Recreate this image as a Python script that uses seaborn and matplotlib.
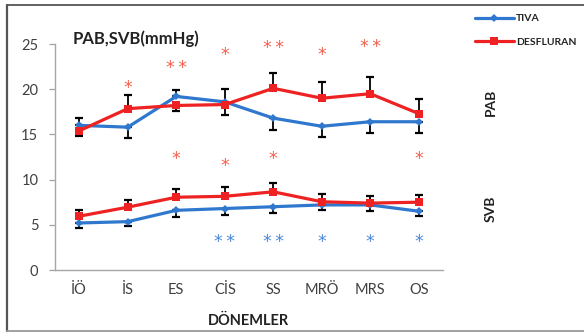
import numpy as np
import pandas as pd
import matplotlib
matplotlib.use("Agg")
import matplotlib.pyplot as plt
from matplotlib.lines import Line2D
import seaborn as sns

# === Data ===
periods = ["İÖ", "İS", "ES", "CİS", "SS", "MRÖ", "MRS", "OS"]

tiva_pab = [16.0, 15.8, 19.2, 18.6, 16.8, 15.9, 16.4, 16.4]
desf_pab = [15.4, 17.85, 18.2, 18.3, 20.1, 19.0, 19.5, 17.3]
tiva_svb = [5.2, 5.35, 6.6, 6.8, 7.0, 7.2, 7.2, 6.5]
desf_svb = [5.95, 6.95, 8.05, 8.15, 8.65, 7.55, 7.4, 7.5]

# error bar sizes, drawn on one side only (+1 up, -1 down)
tiva_pab_err = [0.8, 1.2, 0.7, 1.4, 1.35, 1.2, 1.3, 1.3]
tiva_pab_dir = [1, -1, 1, -1, -1, -1, -1, -1]
desf_pab_err = [0.6, 1.5, 0.6, 1.7, 1.7, 1.8, 1.9, 1.6]
desf_pab_dir = [-1, 1, -1, 1, 1, 1, 1, 1]
tiva_svb_err = [0.56, 0.53, 0.7, 0.68, 0.74, 0.53, 0.7, 0.55]
tiva_svb_dir = [-1] * 8
desf_svb_err = [0.74, 0.74, 0.86, 1.0, 0.93, 0.88, 0.75, 0.82]
desf_svb_dir = [1] * 8

# significance marks
star_period = ["İS", "ES", "CİS", "SS", "MRÖ", "MRS",
               "ES", "CİS", "SS", "OS",
               "CİS", "SS", "MRÖ", "MRS", "OS"]
star_count = [1, 2, 1, 2, 1, 2,
              1, 1, 1, 1,
              2, 2, 1, 1, 1]
star_y = [20.1, 22.3, 23.8, 24.6, 23.8, 24.7,
          12.3, 11.5, 12.3, 12.3,
          3.1, 3.1, 3.1, 3.1, 3.1]
star_group = ["DESFLURAN"] * 10 + ["TIVA"] * 5

groups = ["TIVA", "DESFLURAN"]
colors = {"TIVA": "#2F78CE", "DESFLURAN": "#EE2222"}
star_colors = {"TIVA": "#4A88D8", "DESFLURAN": "#F2604E"}

# long table for seaborn
rows = []
series = [
    ("TIVA", "PAB", tiva_pab, tiva_pab_err, tiva_pab_dir),
    ("DESFLURAN", "PAB", desf_pab, desf_pab_err, desf_pab_dir),
    ("TIVA", "SVB", tiva_svb, tiva_svb_err, tiva_svb_dir),
    ("DESFLURAN", "SVB", desf_svb, desf_svb_err, desf_svb_dir),
]
for grp, meas, vals, errs, dirs in series:
    for i, p in enumerate(periods):
        rows.append({"period": p, "pos": i, "group": grp, "measure": meas,
                     "value": vals[i], "err": errs[i], "dir": dirs[i]})
df = pd.DataFrame(rows)

# === Plot setup ===
sns.set_theme(style="white")
plt.rcParams["font.family"] = ["Lato", "DejaVu Sans"]
text_col = "#404040"

fig = plt.figure(figsize=(5.84, 3.33), dpi=100)
ax = fig.add_axes([55 / 584, 1 - 270 / 333, 388 / 584, 226 / 333])

# error bars first so lines sit on top
for (grp, meas), sub in df.groupby(["group", "measure"]):
    up = np.where(sub["dir"] > 0, sub["err"], 0)
    lo = np.where(sub["dir"] < 0, sub["err"], 0)
    ax.errorbar(sub["pos"], sub["value"], yerr=[lo, up], fmt="none",
                ecolor="black", elinewidth=1.3, capsize=3, capthick=1.6,
                zorder=2)

sns.lineplot(data=df, x="pos", y="value", hue="group", style="group",
             units="measure", estimator=None, palette=colors,
             markers={"TIVA": "D", "DESFLURAN": "s"}, dashes=False,
             linewidth=2.3, markersize=6, markeredgewidth=0,
             legend=False, ax=ax, zorder=3)
# smaller diamonds for TIVA
for ln in ax.lines:
    if ln.get_marker() == "D":
        ln.set_markersize(4.5)

for i in range(len(star_count)):
    ax.text(periods.index(star_period[i]), star_y[i],
            "\u2009".join(["*"] * star_count[i]),
            color=star_colors[star_group[i]], fontsize=12.5,
            family="DejaVu Sans", ha="center", va="center")

ax.set_xlim(-0.5, len(periods) - 0.5)
ax.set_ylim(0, 25)
ax.set_xticks(range(len(periods)))
ax.set_xticklabels(periods)
ax.set_yticks([0, 5, 10, 15, 20, 25])
ax.set_xlabel("")
ax.set_ylabel("")
ax.tick_params(axis="x", length=0, pad=9, labelsize=10.5, labelcolor=text_col)
ax.tick_params(axis="y", left=True, length=4, width=0.9, color="#A0A0A0",
               pad=8, labelsize=10.5, labelcolor=text_col)
for s in ["top", "right"]:
    ax.spines[s].set_visible(False)
for s in ["left", "bottom"]:
    ax.spines[s].set_color("#A6A6A6")
    ax.spines[s].set_linewidth(1.0)

# labels
fig.text(73 / 584, 1 - 39 / 333, "PAB,SVB(mmHg)", fontsize=12,
         fontweight="bold", color="#222222", ha="left", va="center")
fig.text(248 / 584, 1 - 321 / 333, "DÖNEMLER", fontsize=10.5,
         fontweight="bold", color="#222222", ha="center", va="center")
fig.text(491 / 584, 1 - 102 / 333, "PAB", fontsize=10,
         rotation=90, fontweight="bold", color="#222222",
         ha="center", va="center")
fig.text(491 / 584, 1 - 209 / 333, "SVB", fontsize=10,
         rotation=90, fontweight="bold", color="#222222",
         ha="center", va="center")

# legend
handles = [Line2D([0], [0], color=colors["TIVA"], lw=2.3, marker="D",
                  markersize=4.5, markeredgewidth=0),
           Line2D([0], [0], color=colors["DESFLURAN"], lw=2.3, marker="s",
                  markersize=6, markeredgewidth=0)]
fig.legend(handles, groups, loc="upper left",
           bbox_to_anchor=(470 / 584, 1 - 9 / 333), frameon=False,
           borderpad=0, handlelength=3.7, handletextpad=0.2,
           labelspacing=1.35, prop={"size": 7.5, "weight": "bold"},
           labelcolor="#222222")

# outer frame
fig.add_artist(Line2D([7 / 584, 7 / 584], [1 - 331 / 333, 1 - 5 / 333],
                      color="#555555", lw=1.6, transform=fig.transFigure))
fig.add_artist(Line2D([7 / 584, 1], [1 - 5 / 333, 1 - 5 / 333],
                      color="#555555", lw=1.3, transform=fig.transFigure))
fig.add_artist(Line2D([7 / 584, 1], [1 - 331 / 333, 1 - 331 / 333],
                      color="#999999", lw=1.3, transform=fig.transFigure))

fig.savefig("out.png", dpi=100)
plt.close(fig)
